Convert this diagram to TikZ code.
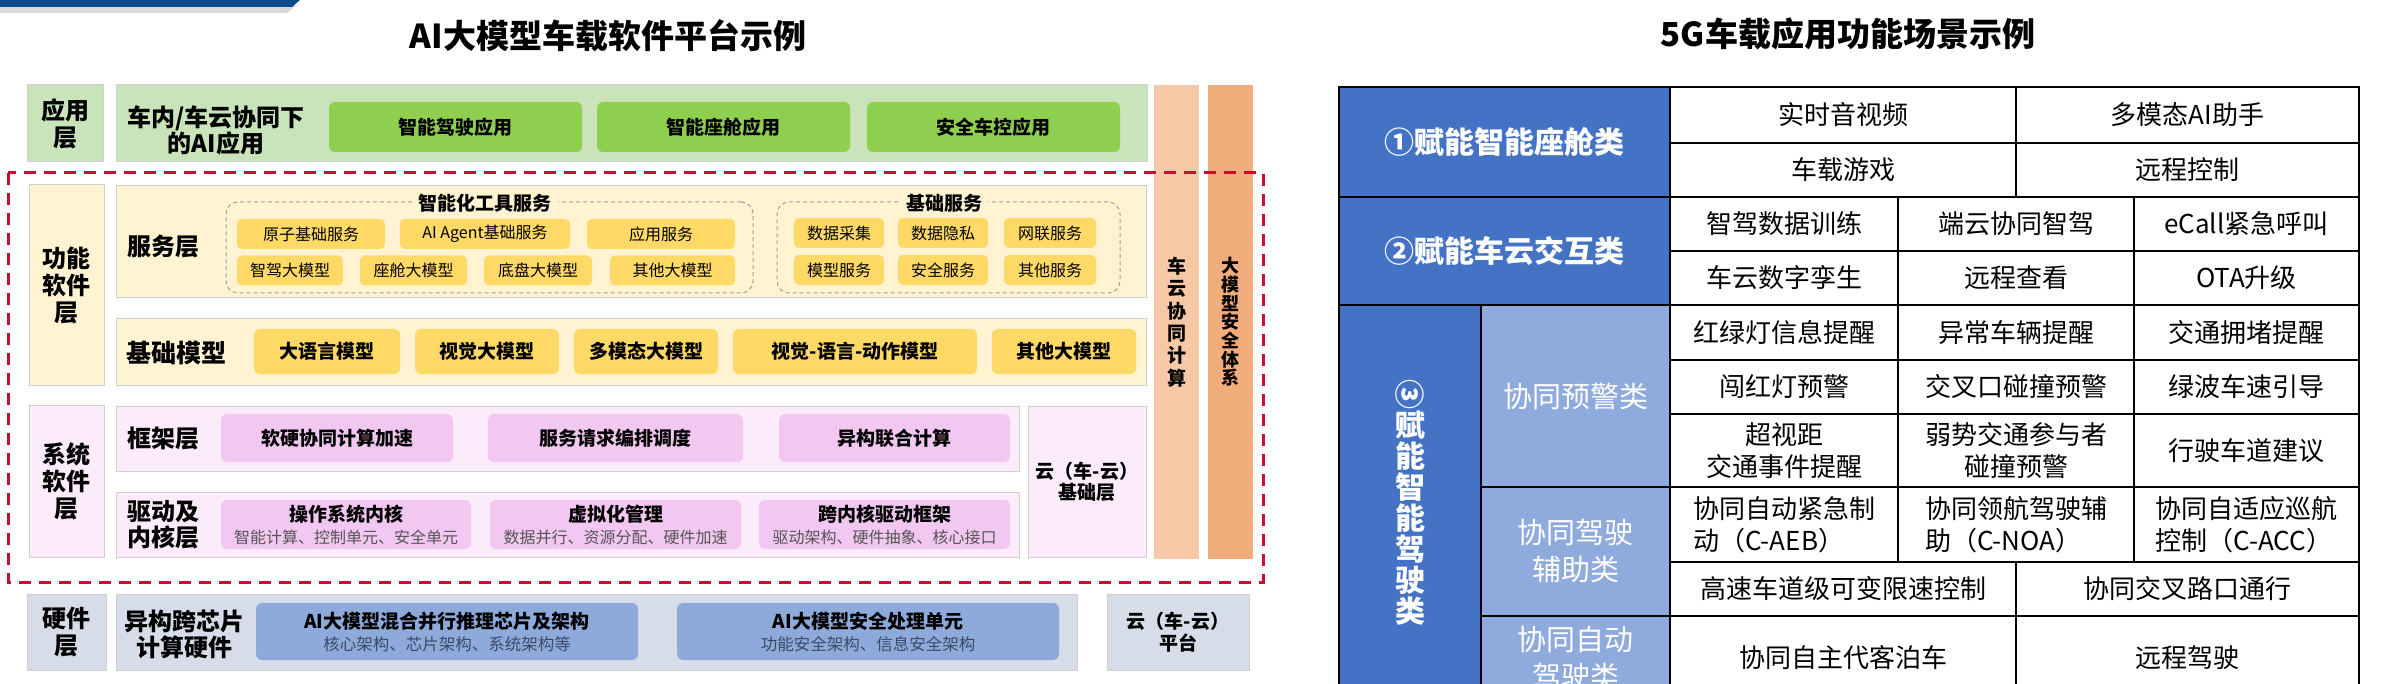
\documentclass[tikz,border=0pt]{standalone}
\usepackage{fontspec}
\setmainfont{Noto Sans CJK SC}
\usepackage{graphicx}
\usepackage{tikz}
\definecolor{Navy}      {HTML}{0B4A8B}
\definecolor{AppBg}     {HTML}{C9E3BA}
\definecolor{AppItem}   {HTML}{8FCF4F}
\definecolor{FunBg}     {HTML}{FFF3D1}
\definecolor{FunItem}   {HTML}{FFD966}
\definecolor{SysBg}     {HTML}{FCEBFB}
\definecolor{SysItem}   {HTML}{F2C8F2}
\definecolor{HwBg}      {HTML}{D7DDE8}
\definecolor{HwItem}    {HTML}{8EAADB}
\definecolor{CoBar}     {HTML}{F7C8A6}
\definecolor{SecBar}    {HTML}{F1AC7C}
\definecolor{DashRed}   {HTML}{C8102E}
\definecolor{FrameGrey} {HTML}{CFCFCF}
\definecolor{SubText}   {HTML}{555555}
\definecolor{HwText}    {HTML}{3B4A66}
\definecolor{CatBlue}   {HTML}{4472C4}
\definecolor{SubBlue}   {HTML}{8FAADC}
\newcommand\fsz[2]{\fontsize{#1}{#2}\selectfont}
\newcommand\subln[1]{{\mdseries\fsz{16}{20}\color{SubText}#1}}
\newcommand\hwsub[1]{{\mdseries\fsz{16.5}{20}\color{HwText}#1}}

\begin{document}
\begin{tikzpicture}[x=1pt, y=-1pt, inner sep=0pt, outer sep=0pt,
  wd/.style={minimum width=#1},
  ht/.style={minimum height=#1},
  sz/.style 2 args={minimum width=#1, minimum height=#2},
  tierlbl/.style={draw=FrameGrey, line width=1pt, align=center,
                  font=\fsz{24}{27}\bfseries},
  tierbox/.style={draw=FrameGrey, line width=1pt},
  tiertxt/.style={align=center, font=\fsz{24}{26}\bfseries},
  item/.style={rounded corners=6pt, align=center, font=\fsz{19}{22}\bfseries},
  smallitem/.style={rounded corners=5pt, fill=FunItem, align=center,
                    font=\fsz{16}{18}, minimum height=30},
  grp/.style={draw=gray!75, line width=1pt, rounded corners=12pt,
              dash pattern=on 4pt off 3pt},
  grptitle/.style={fill=FunBg, inner xsep=6pt, font=\fsz{19}{22}\bfseries},
  bar/.style={align=center, wd=45, ht=474, font=\fsz{19}{22.4}\bfseries},
  cell/.style={draw=black, line width=2.5pt, align=center, font=\fsz{26}{32}},
  cat/.style={cell, fill=CatBlue, text=white, font=\fsz{30}{31}\bfseries},
  subcat/.style={cell, fill=SubBlue, text=white, font=\fsz{29}{37}}]

  \useasboundingbox (0,0) rectangle (2400,684);
  \clip (0,0) rectangle (2400,684);
  \fill[white] (0,0) rectangle (2400,684);

  % Corner tab
  \fill[black, opacity=0.15] (0,5) -- (297,5) -- (287,13) -- (0,13) -- cycle;
  \fill[Navy] (0,0) -- (300,0) -- (292,7) -- (0,7) -- cycle;

  % Titles
  \node[font=\fsz{33}{36}\bfseries] (ttlL) at (608,36) {AI大模型车载软件平台示例};
  \node[font=\fsz{33}{36}\bfseries] (ttlR) at (1848,34) {5G车载应用功能场景示例};

  % Application layer
  \node[tierlbl, fill=AppBg, wd=76, ht=77] (appL) at (65,123.5) {应用\\层};
  \node[tierbox, fill=AppBg, wd=1031, ht=77] (appB) at (631.5,123.5) {};
  \node[tiertxt] (appT) at (216,130) {车内/车云协同下\\的AI应用};
  \node[item, fill=AppItem, wd=253, ht=50] (appDrv) at (455.5,127) {智能驾驶应用};
  \node[item, fill=AppItem, wd=253, ht=50] (appCab) at (723.5,127) {智能座舱应用};
  \node[item, fill=AppItem, wd=253, ht=50] (appSafe) at (993.5,127) {安全车控应用};

  % Side bars
  \node[bar, fill=CoBar] (coBar) at (1176.5,322) {车\\云\\协\\同\\计\\算};
  \node[bar, fill=SecBar, font=\fsz{18}{18.7}\bfseries] (secBar) at (1230.5,322)
    {大\\模\\型\\安\\全\\体\\系};

  % Functional software layer
  \node[tierlbl, fill=FunBg, wd=75, ht=200] (funL) at (66.5,285) {功能\\软件\\层};
  \node[tierbox, fill=FunBg, wd=1030, ht=112] (svcB) at (631,242) {};
  \node[tiertxt] (svcT) at (163,247) {服务层};
  \node[grp, wd=527, ht=91] (toolG) at (489.5,247.5) {};
  \node[grptitle] (toolT) at (485,203) {智能化工具服务};
  \node[smallitem, wd=148] (atomSvc) at (311,234) {原子基础服务};
  \node[smallitem, wd=170] (agentSvc) at (485,234) {AI Agent基础服务};
  \node[smallitem, wd=148] (appSvc) at (661,234) {应用服务};
  \node[smallitem, wd=106] (drvLM) at (290,270.5) {智驾大模型};
  \node[smallitem, wd=107] (cabLM) at (413.5,270.5) {座舱大模型};
  \node[smallitem, wd=108] (chsLM) at (538,270.5) {底盘大模型};
  \node[smallitem, wd=125] (othLM) at (672.5,270.5) {其他大模型};
  \node[grp, wd=343, ht=91] (baseG) at (948.5,247.5) {};
  \node[grptitle] (baseT) at (944,203) {基础服务};
  \node[smallitem, wd=90] (dataAcq) at (839,233) {数据采集};
  \node[smallitem, wd=90] (dataPriv) at (943,233) {数据隐私};
  \node[smallitem, wd=92] (netSvc) at (1050,233) {网联服务};
  \node[smallitem, wd=90] (mdlSvc) at (839,270) {模型服务};
  \node[smallitem, wd=90] (secSvc) at (943,270) {安全服务};
  \node[smallitem, wd=92] (othSvc) at (1050,270) {其他服务};

  \node[tierbox, fill=FunBg, wd=1030, ht=66] (fmB) at (631,352) {};
  \node[tiertxt, font=\fsz{25}{27}\bfseries] (fmT) at (176,353) {基础模型};
  \node[item, fill=FunItem, wd=146, ht=45] (llm) at (327,351.5) {大语言模型};
  \node[item, fill=FunItem, wd=144, ht=45] (visLM) at (487,351.5) {视觉大模型};
  \node[item, fill=FunItem, wd=144, ht=45] (mmLM) at (646,351.5) {多模态大模型};
  \node[item, fill=FunItem, wd=244, ht=45] (vla) at (855,351.5) {视觉-语言-动作模型};
  \node[item, fill=FunItem, wd=144, ht=45] (othFM) at (1064,351.5) {其他大模型};

  % System software layer
  \node[tierlbl, fill=SysBg, wd=75, ht=152] (sysL) at (66.5,481) {系统\\软件\\层};
  \node[tierbox, fill=SysBg, wd=903, ht=65] (fwB) at (567.5,438.5) {};
  \node[tiertxt] (fwT) at (163,438) {框架层};
  \node[item, fill=SysItem, wd=232, ht=48] (hwsw) at (337,438) {软硬协同计算加速};
  \node[item, fill=SysItem, wd=255, ht=48] (orch) at (615.5,438) {服务请求编排调度};
  \node[item, fill=SysItem, wd=231, ht=48] (hetero) at (894.5,438) {异构联合计算};
  \node[tierbox, fill=SysBg, wd=903, ht=65] (krB) at (567.5,524.5) {};
  \node[tiertxt] (krT) at (163,525) {驱动及\\内核层};
  \node[item, fill=SysItem, wd=250, ht=49] (osK) at (346,524.5)
    {操作系统内核\\\subln{智能计算、控制单元、安全单元}};
  \node[item, fill=SysItem, wd=251, ht=49] (virt) at (615.5,524.5)
    {虚拟化管理\\\subln{数据并行、资源分配、硬件加速}};
  \node[item, fill=SysItem, wd=251, ht=49] (xkDrv) at (884.5,524.5)
    {跨内核驱动框架\\\subln{驱动架构、硬件抽象、核心接口}};
  \node[tierbox, fill=SysBg, wd=118, ht=151, align=center, font=\fsz{19}{21}\bfseries]
    (cloudBase) at (1087,481.5) {云（车-云）\\基础层};

  % Red frame
  \draw[DashRed, line width=3pt, dash pattern=on 12pt off 8pt] (8,173) rectangle (1263,582);

  % Hardware layer
  \node[tierlbl, fill=HwBg, wd=79, ht=76] (hwL) at (66.5,632) {硬件\\层};
  \node[tierbox, fill=HwBg, wd=961, ht=76] (hwB) at (596.5,632) {};
  \node[tiertxt] (hwT) at (184,634) {异构跨芯片\\计算硬件};
  \node[item, fill=HwItem, wd=382, ht=57] (chip) at (447,631.5)
    {AI大模型混合并行推理芯片及架构\\\hwsub{核心架构、芯片架构、系统架构等}};
  \node[item, fill=HwItem, wd=382, ht=57] (secUnit) at (868,631.5)
    {AI大模型安全处理单元\\\hwsub{功能安全架构、信息安全架构}};
  \node[tierbox, fill=HwBg, wd=142, ht=76, align=center, font=\fsz{19}{22}\bfseries]
    (cloudPf) at (1178,632) {云（车-云）\\平台};

  % Table: cabin
  \node[cat, sz={331}{110}] (catCab) at (1504.5,142) {①赋能智能座舱类};
  \node[cell, sz={346}{56}] (avStream) at (1843,115) {实时音视频};
  \node[cell, sz={343}{56}] (aiAsst) at (2187.5,115) {多模态AI助手};
  \node[cell, sz={346}{54}] (carGame) at (1843,170) {车载游戏};
  \node[cell, sz={343}{54}] (remoteCtl) at (2187.5,170) {远程控制};
  % Table: vehicle-cloud
  \node[cat, sz={331}{108}] (catCloud) at (1504.5,251) {②赋能车云交互类};
  \node[cell, sz={228}{54}] (dataTrain) at (1784,224) {智驾数据训练};
  \node[cell, sz={236}{54}] (edgeCloud) at (2016,224) {端云协同智驾};
  \node[cell, sz={225}{54}] (eCall) at (2246.5,224) {eCall紧急呼叫};
  \node[cell, sz={228}{54}] (twin) at (1784,278) {车云数字孪生};
  \node[cell, sz={236}{54}] (remoteView) at (2016,278) {远程查看};
  \node[cell, sz={225}{54}] (ota) at (2246.5,278) {OTA升级};
  % Table: driving
  \node[cat, sz={142}{395}] (catDrive) at (1410,502.5)
    {\rotatebox[origin=c]{-90}{③}\\赋\\能\\智\\能\\驾\\驶\\类};
  \node[subcat, sz={189}{182}] (warnCls) at (1575.5,396) {协同预警类};
  \node[cell, sz={228}{55}] (lightInfo) at (1784,332.5) {红绿灯信息提醒};
  \node[cell, sz={236}{55}] (oddCar) at (2016,332.5) {异常车辆提醒};
  \node[cell, sz={225}{55}] (jam) at (2246.5,332.5) {交通拥堵提醒};
  \node[cell, sz={228}{54}] (redRun) at (1784,387) {闯红灯预警};
  \node[cell, sz={236}{54}] (crossHit) at (2016,387) {交叉口碰撞预警};
  \node[cell, sz={225}{54}] (greenWave) at (2246.5,387) {绿波车速引导};
  \node[cell, sz={228}{73}] (beyondLos) at (1784,450.5) {超视距\\交通事件提醒};
  \node[cell, sz={236}{73}] (vru) at (2016,450.5) {弱势交通参与者\\碰撞预警};
  \node[cell, sz={225}{73}] (laneAdv) at (2246.5,450.5) {行驶车道建议};
  \node[subcat, sz={189}{129}] (assistCls) at (1575.5,551.5) {协同驾驶\\辅助类};
  \node[cell, align=left, sz={228}{75}] (cAeb) at (1784,524.5) {协同自动紧急制\\动（C-AEB）};
  \node[cell, align=left, sz={236}{75}] (cNoa) at (2016,524.5) {协同领航驾驶辅\\助（C-NOA）};
  \node[cell, align=left, sz={225}{75}] (cAcc) at (2246.5,524.5) {协同自适应巡航\\控制（C-ACC）};
  \node[cell, sz={346}{54}] (vsl) at (1843,589) {高速车道级可变限速控制};
  \node[cell, sz={343}{54}] (crossPass) at (2187.5,589) {协同交叉路口通行};
  \node[subcat, sz={189}{84}] (autoCls) at (1575.5,658) {协同自动\\驾驶类};
  \node[cell, sz={346}{84}] (valet) at (1843,658) {协同自主代客泊车};
  \node[cell, sz={343}{84}] (teleDrive) at (2187.5,658) {远程驾驶};
\end{tikzpicture}
\end{document}
